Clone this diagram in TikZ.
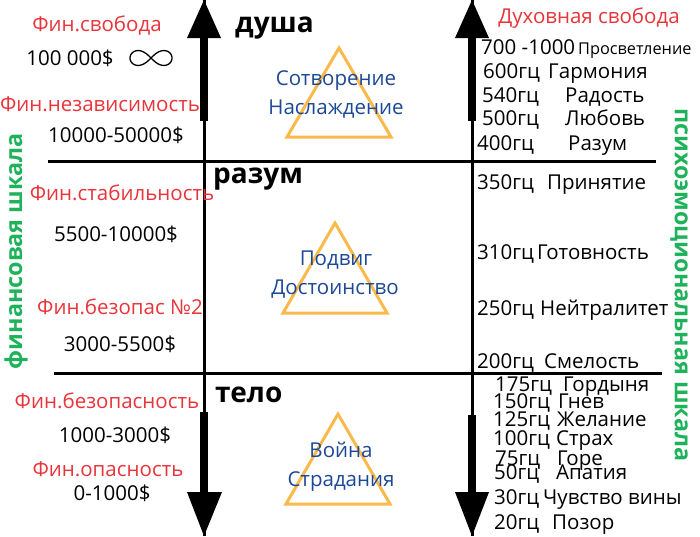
\documentclass[tikz,border=0pt]{standalone}
\usepackage{fontspec}
\setmainfont{Open Sans}
\definecolor{fred}{RGB}{232,52,58}
\definecolor{fblue}{RGB}{28,72,150}
\definecolor{fgreen}{RGB}{30,178,90}
\definecolor{forange}{RGB}{250,185,75}
\tikzset{
  txt/.style={inner sep=0pt, text height=0.714em, text depth=0pt, yshift=-3.5pt, font=\fontsize{20.5}{23}\selectfont},
  redtxt/.style={txt, text=fred},
  bluetxt/.style={txt, text=fblue},
  smalltxt/.style={inner sep=0pt, text height=0.714em, text depth=0pt, yshift=-3.5pt, font=\fontsize{16.3}{19}\selectfont},
  zone/.style={inner sep=0pt, anchor=base west, font=\fontsize{28}{30}\selectfont\bfseries},
  scale label/.style={inner sep=0pt, text=fgreen, font=\fontsize{23.3}{25}\selectfont\bfseries},
  thinaxis/.style={line width=3pt},
  thickshaft/.style={line width=7.5pt},
  head/.style={fill=black},
  tri/.style={draw=forange, line width=3pt, line join=miter},
}
\begin{document}
\begin{tikzpicture}[x=1pt,y=-1pt]
\useasboundingbox (0,0) rectangle (700,536);
% axes
\coordinate (LT) at (204,0); \coordinate (LB) at (204,536);
\coordinate (RT) at (472,0); \coordinate (RB) at (472,536);
\draw[thinaxis] (LT) -- (LB);
\draw[thinaxis] (RT) -- (RB);
\draw[thickshaft] (204,30) -- (204,121);
\draw[thickshaft] (204,412) -- (204,500);
\draw[thickshaft] (472,30) -- (472,121);
\draw[thickshaft] (472,415) -- (472,500);
\fill[head] (LT) -- (221,38) -- (187,38) -- cycle;
\fill[head] (LB) -- (222,492) -- (187,492) -- cycle;
\fill[head] (RT) -- (489,38) -- (455,38) -- cycle;
\fill[head] (RB) -- (489,492) -- (455,492) -- cycle;
\coordinate (H1a) at (48,161); \coordinate (H1b) at (656,161);
\coordinate (H2a) at (54,373); \coordinate (H2b) at (662,373);
\draw[thinaxis] (H1a) -- (H1b);
\draw[thinaxis] (H2a) -- (H2b);
% zone labels
\node[zone] (dusha) at (235,32) {душа};
\node[zone] (razum) at (213,183) {разум};
\node[zone] (telo) at (215,402) {тело};
% triangles
\draw[tri] (339,48) -- (391,137) -- (287,137) -- cycle;
\draw[tri] (335,223) -- (387,313) -- (283,313) -- cycle;
\draw[tri] (338,414) -- (390,504) -- (286,504) -- cycle;
\node[bluetxt] (b1) at (336,78) {Сотворение};
\node[bluetxt] (b2) at (336,107) {Наслаждение};
\node[bluetxt] (b3) at (336,258) {Подвиг};
\node[bluetxt] (b4) at (335,287) {Достоинство};
\node[bluetxt] (b5) at (341,450) {Война};
\node[bluetxt] (b6) at (341,479) {Страдания};
% left column
\node[redtxt] (l1) at (97,24) {Фин.свобода};
\node[txt] (l2) at (70,58) {100 000\$};
\draw[line width=1.3pt] plot[domain=0:360, samples=120, smooth]
  ({151+21*cos(\x)/(1+sin(\x)*sin(\x))}, {58+21*sin(\x)*cos(\x)/(1+sin(\x)*sin(\x))});
\node[redtxt] (l3) at (100,104) {Фин.независимость};
\node[txt] (l4) at (116,135) {10000-50000\$};
\node[redtxt] (l5) at (122,193) {Фин.стабильность};
\node[txt] (l6) at (116,234) {5500-10000\$};
\node[redtxt] (l7) at (120,307) {Фин.безопас №2};
\node[txt] (l8) at (120,344) {3000-5500\$};
\node[redtxt] (l9) at (107,401) {Фин.безопасность};
\node[txt] (l10) at (115,435) {1000-3000\$};
\node[redtxt] (l11) at (108,469) {Фин.опасность};
\node[txt] (l12) at (112,493) {0-1000\$};
\node[scale label, rotate=90] (fin) at (16,251) {финансовая шкала};
% right column
\node[redtxt] (r0) at (589,16) {Духовная свобода};
\node[txt, anchor=west] (f1) at (481,47) {700 -1000};
\node[smalltxt, anchor=west] (e1) at (578,47) {Просветление};
\node[txt, anchor=west] (f2) at (483,71) {600гц};
\node[txt, anchor=west] (e2) at (548,71) {Гармония};
\node[txt, anchor=west] (f3) at (482,95) {540гц};
\node[txt, anchor=west] (e3) at (565,95) {Радость};
\node[txt, anchor=west] (f4) at (482,118) {500гц};
\node[txt, anchor=west] (e4) at (565,118) {Любовь};
\node[txt, anchor=west] (f5) at (477,143) {400гц};
\node[txt, anchor=west] (e5) at (568,143) {Разум};
\node[txt, anchor=west] (f6) at (477,182) {350гц};
\node[txt, anchor=west] (e6) at (547,182) {Принятие};
\node[txt, anchor=west] (f7) at (477,252) {310гц};
\node[txt, anchor=west] (e7) at (537,252) {Готовность};
\node[txt, anchor=west] (f8) at (477,308) {250гц};
\node[txt, anchor=west] (e8) at (540,308) {Нейтралитет};
\node[txt, anchor=west] (f9) at (477,361) {200гц};
\node[txt, anchor=west] (e9) at (544,361) {Смелость};
\node[txt, anchor=west] (f10) at (495,384) {175гц};
\node[txt, anchor=west] (e10) at (563,384) {Гордыня};
\node[txt, anchor=west] (f11) at (493,401) {150гц};
\node[txt, anchor=west] (e11) at (558,401) {Гнев};
\node[txt, anchor=west] (f12) at (493,419) {125гц};
\node[txt, anchor=west] (e12) at (557,419) {Желание};
\node[txt, anchor=west] (f13) at (493,438) {100гц};
\node[txt, anchor=west] (e13) at (556,438) {Страх};
\node[txt, anchor=west] (f14) at (495,458) {75гц};
\node[txt, anchor=west] (e14) at (557,458) {Горе};
\node[txt, anchor=west] (f15) at (494,472) {50гц};
\node[txt, anchor=west] (e15) at (556,472) {Апатия};
\node[txt, anchor=west] (f16) at (494,497) {30гц};
\node[txt, anchor=west] (e16) at (543,497) {Чувство вины};
\node[txt, anchor=west] (f17) at (494,522) {20гц};
\node[txt, anchor=west] (e17) at (552,522) {Позор};
\node[scale label, rotate=-90] (psy) at (679,285) {психоэмоциональная шкала};
\end{tikzpicture}
\end{document}
